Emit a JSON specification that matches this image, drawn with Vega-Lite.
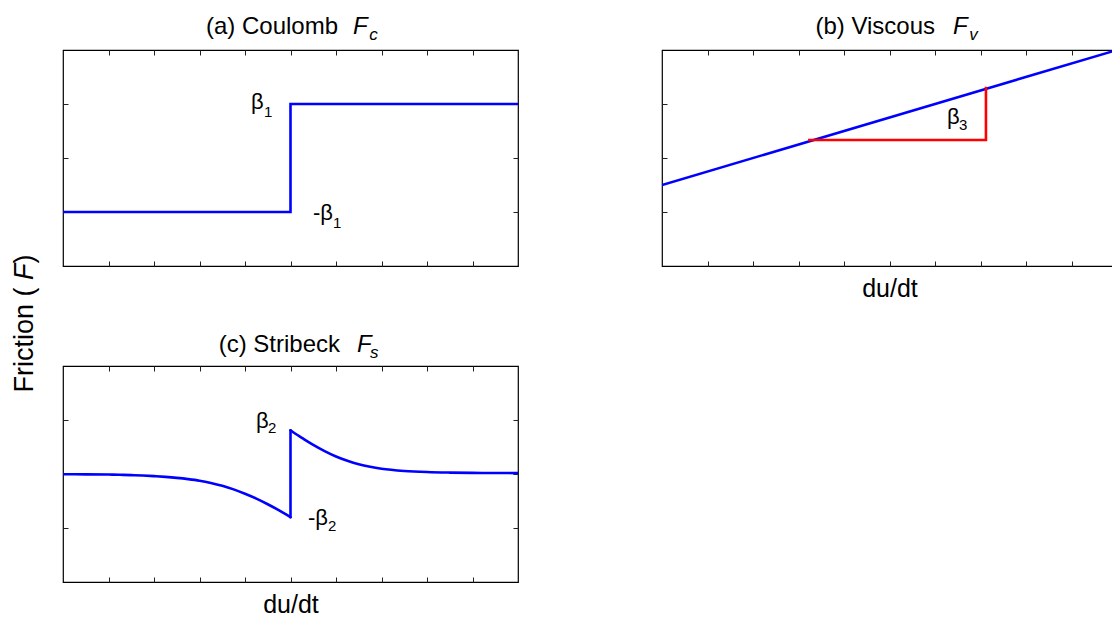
{
  "$schema": "https://vega.github.io/schema/vega-lite/v6.json",
  "padding": {"left": 10, "top": 14, "right": 0, "bottom": 0},
  "background": "white",
  "config": {
    "font": "Liberation Sans",
    "view": {"stroke": "#000", "strokeWidth": 1.2},
    "axis": {
      "labels": false, "domain": false, "grid": false,
      "tickSize": -5, "tickColor": "#222", "tickWidth": 1,
      "titleFont": "Liberation Sans", "titleFontSize": 25, "titleFontWeight": "normal",
      "titleColor": "#000", "titlePadding": 10
    },
    "text": {"font": "Liberation Sans", "color": "#000"}
  },
  "datasets": {
    "coulomb": [
      {"i": 0, "u": -5, "f": -1},
      {"i": 1, "u": 0, "f": -1},
      {"i": 2, "u": 0, "f": 1},
      {"i": 3, "u": 5, "f": 1}
    ],
    "viscous": [
      {"i": 0, "u": -5, "f": -0.5},
      {"i": 1, "u": 5, "f": 2}
    ],
    "slope": [
      {"i": 0, "u": -1.79, "f": 0.333},
      {"i": 1, "u": 2.12, "f": 0.333},
      {"i": 2, "u": 2.12, "f": 1.32}
    ],
    "stribeck": [
      {"s": "neg", "i": 0, "u": -5, "f": -0.005},
      {"s": "neg", "i": 1, "u": -4.5, "f": -0.007},
      {"s": "neg", "i": 2, "u": -4, "f": -0.01},
      {"s": "neg", "i": 3, "u": -3.75, "f": -0.014},
      {"s": "neg", "i": 4, "u": -3.5, "f": -0.02},
      {"s": "neg", "i": 5, "u": -3.25, "f": -0.028},
      {"s": "neg", "i": 6, "u": -3, "f": -0.04},
      {"s": "neg", "i": 7, "u": -2.75, "f": -0.054},
      {"s": "neg", "i": 8, "u": -2.5, "f": -0.072},
      {"s": "neg", "i": 9, "u": -2.25, "f": -0.095},
      {"s": "neg", "i": 10, "u": -2, "f": -0.124},
      {"s": "neg", "i": 11, "u": -1.75, "f": -0.165},
      {"s": "neg", "i": 12, "u": -1.5, "f": -0.218},
      {"s": "neg", "i": 13, "u": -1.25, "f": -0.285},
      {"s": "neg", "i": 14, "u": -1, "f": -0.365},
      {"s": "neg", "i": 15, "u": -0.75, "f": -0.455},
      {"s": "neg", "i": 16, "u": -0.5, "f": -0.56},
      {"s": "neg", "i": 17, "u": -0.25, "f": -0.675},
      {"s": "neg", "i": 18, "u": 0, "f": -0.8},
      {"s": "jump", "i": 0, "u": 0, "f": -0.8},
      {"s": "jump", "i": 1, "u": 0, "f": 0.81},
      {"s": "pos", "i": 0, "u": 0, "f": 0.81},
      {"s": "pos", "i": 1, "u": 0.1, "f": 0.75},
      {"s": "pos", "i": 2, "u": 0.25, "f": 0.67},
      {"s": "pos", "i": 3, "u": 0.5, "f": 0.54},
      {"s": "pos", "i": 4, "u": 0.75, "f": 0.425},
      {"s": "pos", "i": 5, "u": 1, "f": 0.325},
      {"s": "pos", "i": 6, "u": 1.25, "f": 0.245},
      {"s": "pos", "i": 7, "u": 1.5, "f": 0.18},
      {"s": "pos", "i": 8, "u": 1.75, "f": 0.133},
      {"s": "pos", "i": 9, "u": 2, "f": 0.098},
      {"s": "pos", "i": 10, "u": 2.5, "f": 0.057},
      {"s": "pos", "i": 11, "u": 3, "f": 0.036},
      {"s": "pos", "i": 12, "u": 3.5, "f": 0.026},
      {"s": "pos", "i": 13, "u": 4, "f": 0.021},
      {"s": "pos", "i": 14, "u": 4.5, "f": 0.018},
      {"s": "pos", "i": 15, "u": 5, "f": 0.017}
    ],
    "notes": [
      {"p": "a", "k": "title", "x": 1.044, "y": 2.296, "t": "(a) Coulomb"},
      {"p": "a", "k": "titleF", "x": 1.374, "y": 2.296, "t": "F"},
      {"p": "a", "k": "titleSub", "x": 1.73, "y": 2.185, "t": "c"},
      {"p": "a", "k": "lab", "x": -0.868, "y": 0.907, "t": "β"},
      {"p": "a", "k": "labSub", "x": -0.58, "y": 0.759, "t": "1"},
      {"p": "a", "k": "lab", "x": 0.495, "y": -1.148, "t": "-β"},
      {"p": "a", "k": "labSub", "x": 0.934, "y": -1.296, "t": "1"},
      {"p": "a", "k": "ylab", "x": -5.666, "y": -4.343, "t": "Friction ( "},
      {"p": "a", "k": "ylabF", "x": -5.666, "y": -2.259, "t": "F"},
      {"p": "a", "k": "ylab", "x": -5.666, "y": -1.954, "t": ")"},
      {"p": "b", "k": "title", "x": 1.0, "y": 2.296, "t": "(b) Viscous"},
      {"p": "b", "k": "titleF", "x": 1.396, "y": 2.296, "t": "F"},
      {"p": "b", "k": "titleSub", "x": 1.75, "y": 2.185, "t": "v"},
      {"p": "b", "k": "lab", "x": 1.264, "y": 0.63, "t": "β"},
      {"p": "b", "k": "labSub", "x": 1.527, "y": 0.519, "t": "3"},
      {"p": "c", "k": "title", "x": 1.088, "y": 2.259, "t": "(c) Stribeck"},
      {"p": "c", "k": "titleF", "x": 1.462, "y": 2.259, "t": "F"},
      {"p": "c", "k": "titleSub", "x": 1.747, "y": 2.148, "t": "s"},
      {"p": "c", "k": "lab", "x": -0.758, "y": 0.852, "t": "β"},
      {"p": "c", "k": "labSub", "x": -0.495, "y": 0.759, "t": "2"},
      {"p": "c", "k": "lab", "x": 0.385, "y": -0.944, "t": "-β"},
      {"p": "c", "k": "labSub", "x": 0.824, "y": -1.056, "t": "2"}
    ]
  },
  "bounds": "flush",
  "columns": 2,
  "spacing": {"row": 100, "column": 144},
  "concat": [
    {
      "width": 455, "height": 216,
      "resolve": {"axis": {"x": "independent", "y": "independent"}},
      "layer": [
        {
          "data": {"name": "coulomb"},
          "mark": {"type": "line", "color": "#0000ff", "strokeWidth": 2.6, "clip": true},
          "encoding": {
            "x": {"field": "u", "type": "quantitative", "scale": {"domain": [-5, 5], "nice": false, "zero": false}, "axis": {"orient": "bottom", "values": [-4, -3, -2, -1, 0, 1, 2, 3, 4], "title": null}},
            "y": {"field": "f", "type": "quantitative", "scale": {"domain": [-2, 2], "nice": false, "zero": false}, "axis": {"orient": "left", "values": [-1, 0, 1], "title": null}},
            "order": {"field": "i"}
          }
        },
        {
          "data": {"name": "notes"},
          "transform": [{"filter": "datum.p == 'a' && datum.k == 'title'"}],
          "mark": {"type": "text", "align": "right", "baseline": "alphabetic", "fontSize": 24},
          "encoding": {
            "x": {"field": "x", "type": "quantitative", "scale": {"domain": [-5, 5], "nice": false, "zero": false}, "axis": {"orient": "top", "values": [-4, -3, -2, -1, 0, 1, 2, 3, 4], "title": null}},
            "y": {"field": "y", "type": "quantitative", "scale": {"domain": [-2, 2], "nice": false, "zero": false}, "axis": {"orient": "right", "values": [-1, 0, 1], "title": null}},
            "text": {"field": "t"}
          }
        },
        {
          "data": {"name": "notes"},
          "transform": [{"filter": "datum.p == 'a' && datum.k == 'titleF'"}],
          "mark": {"type": "text", "align": "left", "baseline": "alphabetic", "fontSize": 24, "fontStyle": "italic"},
          "encoding": {
            "x": {"field": "x", "type": "quantitative", "scale": {"domain": [-5, 5], "nice": false, "zero": false}, "axis": null},
            "y": {"field": "y", "type": "quantitative", "scale": {"domain": [-2, 2], "nice": false, "zero": false}, "axis": null},
            "text": {"field": "t"}
          }
        },
        {
          "data": {"name": "notes"},
          "transform": [{"filter": "datum.p == 'a' && datum.k == 'titleSub'"}],
          "mark": {"type": "text", "align": "left", "baseline": "alphabetic", "fontSize": 17, "fontStyle": "italic"},
          "encoding": {
            "x": {"field": "x", "type": "quantitative", "scale": {"domain": [-5, 5], "nice": false, "zero": false}, "axis": null},
            "y": {"field": "y", "type": "quantitative", "scale": {"domain": [-2, 2], "nice": false, "zero": false}, "axis": null},
            "text": {"field": "t"}
          }
        },
        {
          "data": {"name": "notes"},
          "transform": [{"filter": "datum.p == 'a' && datum.k == 'lab'"}],
          "mark": {"type": "text", "align": "left", "baseline": "alphabetic", "fontSize": 22},
          "encoding": {
            "x": {"field": "x", "type": "quantitative", "scale": {"domain": [-5, 5], "nice": false, "zero": false}, "axis": null},
            "y": {"field": "y", "type": "quantitative", "scale": {"domain": [-2, 2], "nice": false, "zero": false}, "axis": null},
            "text": {"field": "t"}
          }
        },
        {
          "data": {"name": "notes"},
          "transform": [{"filter": "datum.p == 'a' && datum.k == 'labSub'"}],
          "mark": {"type": "text", "align": "left", "baseline": "alphabetic", "fontSize": 15},
          "encoding": {
            "x": {"field": "x", "type": "quantitative", "scale": {"domain": [-5, 5], "nice": false, "zero": false}, "axis": null},
            "y": {"field": "y", "type": "quantitative", "scale": {"domain": [-2, 2], "nice": false, "zero": false}, "axis": null},
            "text": {"field": "t"}
          }
        },
        {
          "data": {"name": "notes"},
          "transform": [{"filter": "datum.p == 'a' && datum.k == 'ylab'"}],
          "mark": {"type": "text", "align": "left", "baseline": "alphabetic", "fontSize": 27, "angle": 270},
          "encoding": {
            "x": {"field": "x", "type": "quantitative", "scale": {"domain": [-5, 5], "nice": false, "zero": false}, "axis": null},
            "y": {"field": "y", "type": "quantitative", "scale": {"domain": [-2, 2], "nice": false, "zero": false}, "axis": null},
            "text": {"field": "t"}
          }
        },
        {
          "data": {"name": "notes"},
          "transform": [{"filter": "datum.p == 'a' && datum.k == 'ylabF'"}],
          "mark": {"type": "text", "align": "left", "baseline": "alphabetic", "fontSize": 27, "angle": 270, "fontStyle": "italic"},
          "encoding": {
            "x": {"field": "x", "type": "quantitative", "scale": {"domain": [-5, 5], "nice": false, "zero": false}, "axis": null},
            "y": {"field": "y", "type": "quantitative", "scale": {"domain": [-2, 2], "nice": false, "zero": false}, "axis": null},
            "text": {"field": "t"}
          }
        }
      ]
    },
    {
      "width": 455, "height": 216,
      "resolve": {"axis": {"x": "independent", "y": "independent"}},
      "layer": [
        {
          "data": {"name": "viscous"},
          "mark": {"type": "line", "color": "#0000ff", "strokeWidth": 2.6, "clip": true},
          "encoding": {
            "x": {"field": "u", "type": "quantitative", "scale": {"domain": [-5, 5], "nice": false, "zero": false}, "axis": {"orient": "bottom", "values": [-4, -3, -2, -1, 0, 1, 2, 3, 4], "title": "du/dt"}},
            "y": {"field": "f", "type": "quantitative", "scale": {"domain": [-2, 2], "nice": false, "zero": false}, "axis": {"orient": "left", "values": [-1, 0, 1], "title": null}},
            "order": {"field": "i"}
          }
        },
        {
          "data": {"name": "slope"},
          "mark": {"type": "line", "color": "#ff0000", "strokeWidth": 2.6, "clip": true},
          "encoding": {
            "x": {"field": "u", "type": "quantitative", "scale": {"domain": [-5, 5], "nice": false, "zero": false}, "axis": null},
            "y": {"field": "f", "type": "quantitative", "scale": {"domain": [-2, 2], "nice": false, "zero": false}, "axis": null},
            "order": {"field": "i"}
          }
        },
        {
          "data": {"name": "notes"},
          "transform": [{"filter": "datum.p == 'b' && datum.k == 'title'"}],
          "mark": {"type": "text", "align": "right", "baseline": "alphabetic", "fontSize": 24},
          "encoding": {
            "x": {"field": "x", "type": "quantitative", "scale": {"domain": [-5, 5], "nice": false, "zero": false}, "axis": {"orient": "top", "values": [-4, -3, -2, -1, 0, 1, 2, 3, 4], "title": null}},
            "y": {"field": "y", "type": "quantitative", "scale": {"domain": [-2, 2], "nice": false, "zero": false}, "axis": {"orient": "right", "values": [-1, 0, 1], "title": null}},
            "text": {"field": "t"}
          }
        },
        {
          "data": {"name": "notes"},
          "transform": [{"filter": "datum.p == 'b' && datum.k == 'titleF'"}],
          "mark": {"type": "text", "align": "left", "baseline": "alphabetic", "fontSize": 24, "fontStyle": "italic"},
          "encoding": {
            "x": {"field": "x", "type": "quantitative", "scale": {"domain": [-5, 5], "nice": false, "zero": false}, "axis": null},
            "y": {"field": "y", "type": "quantitative", "scale": {"domain": [-2, 2], "nice": false, "zero": false}, "axis": null},
            "text": {"field": "t"}
          }
        },
        {
          "data": {"name": "notes"},
          "transform": [{"filter": "datum.p == 'b' && datum.k == 'titleSub'"}],
          "mark": {"type": "text", "align": "left", "baseline": "alphabetic", "fontSize": 17, "fontStyle": "italic"},
          "encoding": {
            "x": {"field": "x", "type": "quantitative", "scale": {"domain": [-5, 5], "nice": false, "zero": false}, "axis": null},
            "y": {"field": "y", "type": "quantitative", "scale": {"domain": [-2, 2], "nice": false, "zero": false}, "axis": null},
            "text": {"field": "t"}
          }
        },
        {
          "data": {"name": "notes"},
          "transform": [{"filter": "datum.p == 'b' && datum.k == 'lab'"}],
          "mark": {"type": "text", "align": "left", "baseline": "alphabetic", "fontSize": 22},
          "encoding": {
            "x": {"field": "x", "type": "quantitative", "scale": {"domain": [-5, 5], "nice": false, "zero": false}, "axis": null},
            "y": {"field": "y", "type": "quantitative", "scale": {"domain": [-2, 2], "nice": false, "zero": false}, "axis": null},
            "text": {"field": "t"}
          }
        },
        {
          "data": {"name": "notes"},
          "transform": [{"filter": "datum.p == 'b' && datum.k == 'labSub'"}],
          "mark": {"type": "text", "align": "left", "baseline": "alphabetic", "fontSize": 15},
          "encoding": {
            "x": {"field": "x", "type": "quantitative", "scale": {"domain": [-5, 5], "nice": false, "zero": false}, "axis": null},
            "y": {"field": "y", "type": "quantitative", "scale": {"domain": [-2, 2], "nice": false, "zero": false}, "axis": null},
            "text": {"field": "t"}
          }
        }
      ]
    },
    {
      "width": 455, "height": 216,
      "resolve": {"axis": {"x": "independent", "y": "independent"}},
      "layer": [
        {
          "data": {"name": "stribeck"},
          "mark": {"type": "line", "color": "#0000ff", "strokeWidth": 2.6, "clip": true, "interpolate": "monotone", "strokeCap": "round"},
          "encoding": {
            "x": {"field": "u", "type": "quantitative", "scale": {"domain": [-5, 5], "nice": false, "zero": false}, "axis": {"orient": "bottom", "values": [-4, -3, -2, -1, 0, 1, 2, 3, 4], "title": "du/dt"}},
            "y": {"field": "f", "type": "quantitative", "scale": {"domain": [-2, 2], "nice": false, "zero": false}, "axis": {"orient": "left", "values": [-1, 0, 1], "title": null}},
            "detail": {"field": "s"},
            "order": {"field": "i"}
          }
        },
        {
          "data": {"name": "notes"},
          "transform": [{"filter": "datum.p == 'c' && datum.k == 'title'"}],
          "mark": {"type": "text", "align": "right", "baseline": "alphabetic", "fontSize": 24},
          "encoding": {
            "x": {"field": "x", "type": "quantitative", "scale": {"domain": [-5, 5], "nice": false, "zero": false}, "axis": {"orient": "top", "values": [-4, -3, -2, -1, 0, 1, 2, 3, 4], "title": null}},
            "y": {"field": "y", "type": "quantitative", "scale": {"domain": [-2, 2], "nice": false, "zero": false}, "axis": {"orient": "right", "values": [-1, 0, 1], "title": null}},
            "text": {"field": "t"}
          }
        },
        {
          "data": {"name": "notes"},
          "transform": [{"filter": "datum.p == 'c' && datum.k == 'titleF'"}],
          "mark": {"type": "text", "align": "left", "baseline": "alphabetic", "fontSize": 24, "fontStyle": "italic"},
          "encoding": {
            "x": {"field": "x", "type": "quantitative", "scale": {"domain": [-5, 5], "nice": false, "zero": false}, "axis": null},
            "y": {"field": "y", "type": "quantitative", "scale": {"domain": [-2, 2], "nice": false, "zero": false}, "axis": null},
            "text": {"field": "t"}
          }
        },
        {
          "data": {"name": "notes"},
          "transform": [{"filter": "datum.p == 'c' && datum.k == 'titleSub'"}],
          "mark": {"type": "text", "align": "left", "baseline": "alphabetic", "fontSize": 17, "fontStyle": "italic"},
          "encoding": {
            "x": {"field": "x", "type": "quantitative", "scale": {"domain": [-5, 5], "nice": false, "zero": false}, "axis": null},
            "y": {"field": "y", "type": "quantitative", "scale": {"domain": [-2, 2], "nice": false, "zero": false}, "axis": null},
            "text": {"field": "t"}
          }
        },
        {
          "data": {"name": "notes"},
          "transform": [{"filter": "datum.p == 'c' && datum.k == 'lab'"}],
          "mark": {"type": "text", "align": "left", "baseline": "alphabetic", "fontSize": 22},
          "encoding": {
            "x": {"field": "x", "type": "quantitative", "scale": {"domain": [-5, 5], "nice": false, "zero": false}, "axis": null},
            "y": {"field": "y", "type": "quantitative", "scale": {"domain": [-2, 2], "nice": false, "zero": false}, "axis": null},
            "text": {"field": "t"}
          }
        },
        {
          "data": {"name": "notes"},
          "transform": [{"filter": "datum.p == 'c' && datum.k == 'labSub'"}],
          "mark": {"type": "text", "align": "left", "baseline": "alphabetic", "fontSize": 15},
          "encoding": {
            "x": {"field": "x", "type": "quantitative", "scale": {"domain": [-5, 5], "nice": false, "zero": false}, "axis": null},
            "y": {"field": "y", "type": "quantitative", "scale": {"domain": [-2, 2], "nice": false, "zero": false}, "axis": null},
            "text": {"field": "t"}
          }
        }
      ]
    }
  ]
}
